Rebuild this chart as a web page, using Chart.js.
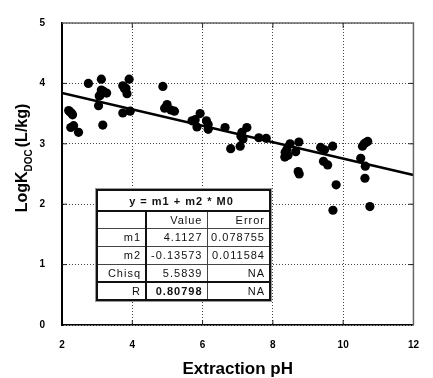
<!DOCTYPE html>
<html>
<head>
<meta charset="utf-8">
<script src="https://cdn.jsdelivr.net/npm/chart.js@4"></script>
<style>
  body { margin: 0; background: #fff; }
  #wrap { position: relative; width: 433px; height: 378px; }
  #fitTable {
    position: absolute; left: 96px; top: 189px;
    border-collapse: collapse; table-layout: fixed;
    background: #fff;
    border: 2px solid #111;
    box-shadow: 0 0 0 1px #999;
    font: 11px "Liberation Sans", Arial, sans-serif;
    letter-spacing: 1px; color: #111;
  }
  #fitTable td {
    border: 1px solid #444; padding: 0 4px 0 0;
    text-align: right; white-space: nowrap; line-height: 14px;
  }
  #fitTable tr.title td { text-align: center; font-weight: bold; border-bottom: 2px solid #111; }
  #fitTable td.val { border-left: 2px solid #111; }
  #fitTable tr.last td { border-top: 2px solid #111; }
</style>
</head>
<body>
<div id="wrap">
  <canvas id="chart" width="433" height="378"></canvas>
  <table id="fitTable">
    <colgroup><col style="width:49px"><col style="width:61px"><col style="width:63px"></colgroup>
    <tbody></tbody>
  </table>
</div>
<script>
// Données
const phValues = [
  2.19, 2.27, 2.30, 2.22, 2.25, 2.33, 2.47,
  2.75, 3.12, 3.12, 3.18, 3.09, 3.27, 3.13, 3.06, 3.04, 3.16,
  3.91, 3.73, 3.82, 3.85, 3.78, 3.73, 3.94,
  4.87, 4.99, 4.92, 5.10, 5.20,
  5.93, 5.79, 5.70, 5.84, 6.11, 6.16, 6.16,
  6.64, 6.80, 7.07, 7.12, 7.09, 7.15, 7.26,
  7.60, 7.81,
  8.49, 8.40, 8.35, 8.34, 8.43, 8.74, 8.65, 8.72, 8.75,
  9.36, 9.47, 9.44, 9.56, 9.70, 9.80, 9.71,
  10.60, 10.65, 10.70, 10.55, 10.50, 10.63, 10.62, 10.76
];
const logKValues = [
  3.55, 3.51, 3.48, 3.53, 3.27, 3.30, 3.19,
  4.00, 4.07, 3.89, 3.87, 3.81, 3.84, 3.84, 3.79, 3.63, 3.31,
  4.07, 3.96, 3.92, 3.83, 3.91, 3.51, 3.54,
  3.95, 3.65, 3.59, 3.56, 3.54,
  3.50, 3.40, 3.38, 3.28, 3.38, 3.32, 3.24,
  3.27, 2.92, 2.96, 3.19, 3.13, 3.08, 3.27,
  3.10, 3.09,
  3.00, 2.91, 2.86, 2.78, 2.81, 3.03, 2.87, 2.54, 2.50,
  2.94, 2.90, 2.71, 2.65, 2.96, 2.32, 1.90,
  3.00, 3.02, 3.04, 2.96, 2.76, 2.63, 2.43, 1.96
];

// Coefficients de la régression (tableau)
const m1 = 4.1127;
const m2 = -0.13573;
const fitX = [2, 12];
const fitY = fitX.map(x => m1 + m2 * x);

const tableTitle = 'y = m1 + m2 * M0';
const tableHeader = ['', 'Value', 'Error'];
const tableLabels = ['m1', 'm2', 'Chisq', 'R'];
const tableValues = ['4.1127', '-0.13573', '5.5839', '0.80798'];
const tableErrors = ['0.078755', '0.011584', 'NA', 'NA'];

const xTicks = [2, 4, 6, 8, 10, 12];
const yTicks = [0, 1, 2, 3, 4, 5];

// Construire le tableau des paramètres
function buildTable() {
  const body = document.querySelector('#fitTable tbody');
  body.innerHTML = '';
  const rowHeights = [21, 17, 18, 18, 18, 18];

  const titleRow = document.createElement('tr');
  titleRow.className = 'title';
  titleRow.style.height = rowHeights[0] + 'px';
  const titleCell = document.createElement('td');
  titleCell.colSpan = 3;
  titleCell.textContent = tableTitle;
  titleRow.appendChild(titleCell);
  body.appendChild(titleRow);

  const rows = [tableHeader].concat(tableLabels.map((l, i) => [l, tableValues[i], tableErrors[i]]));
  rows.forEach((cells, r) => {
    const row = document.createElement('tr');
    row.style.height = rowHeights[r + 1] + 'px';
    if (r === rows.length - 1) row.className = 'last';
    cells.forEach((txt, c) => {
      const td = document.createElement('td');
      td.textContent = txt;
      if (c === 1) td.className = 'val';
      if (r === rows.length - 1 && c === 1) td.style.fontWeight = 'bold';
      row.appendChild(td);
    });
    body.appendChild(row);
  });
}

// Cadre, petites graduations et titres des axes
const framePlugin = {
  id: 'frame',
  afterDraw(chart) {
    const { ctx, chartArea: a, scales } = chart;
    ctx.save();
    ctx.strokeStyle = '#666';
    ctx.lineWidth = 1.5;
    ctx.beginPath();
    ctx.moveTo(a.left, a.top);
    ctx.lineTo(a.right, a.top);
    ctx.lineTo(a.right, a.bottom);
    ctx.stroke();

    // graduations intérieures
    ctx.strokeStyle = '#222';
    ctx.lineWidth = 1;
    yTicks.slice(1, -1).forEach(v => {
      const y = scales.y.getPixelForValue(v);
      ctx.beginPath();
      ctx.moveTo(a.left, y); ctx.lineTo(a.left + 5, y);
      ctx.moveTo(a.right, y); ctx.lineTo(a.right - 5, y);
      ctx.stroke();
    });
    xTicks.slice(1, -1).forEach(v => {
      const x = scales.x.getPixelForValue(v);
      ctx.beginPath();
      ctx.moveTo(x, a.bottom); ctx.lineTo(x, a.bottom - 5);
      ctx.moveTo(x, a.top); ctx.lineTo(x, a.top + 5);
      ctx.stroke();
    });

    ctx.fillStyle = '#000';
    // titre de l'axe x
    ctx.font = 'bold 17px "Liberation Sans", Arial, sans-serif';
    ctx.textAlign = 'center';
    ctx.textBaseline = 'alphabetic';
    ctx.fillText('Extraction pH', (a.left + a.right) / 2, 374);

    // titre de l'axe y avec indice
    const big = 'bold 16px "Liberation Sans", Arial, sans-serif';
    const small = 'bold 10px "Liberation Sans", Arial, sans-serif';
    ctx.font = big;
    const w1 = ctx.measureText('LogK').width;
    const w3 = ctx.measureText('(L/kg)').width;
    ctx.font = small;
    const w2 = ctx.measureText('DOC').width + 2;
    const total = w1 + w2 + w3;
    ctx.translate(27, 158);
    ctx.rotate(-Math.PI / 2);
    ctx.textAlign = 'left';
    let x0 = -total / 2;
    ctx.font = big;
    ctx.fillText('LogK', x0, 0);
    ctx.font = small;
    ctx.fillText('DOC', x0 + w1, 5);
    ctx.font = big;
    ctx.fillText('(L/kg)', x0 + w1 + w2, 0);
    ctx.restore();
  }
};

function displayChart() {
  const ctx = document.getElementById('chart').getContext('2d');
  const points = phValues.map((x, i) => ({ x: x, y: logKValues[i] }));
  const fitLine = fitX.map((x, i) => ({ x: x, y: fitY[i] }));
  const tickFont = { family: '"Liberation Sans", Arial, sans-serif', size: 10, weight: 'bold' };

  window.fitChart = new Chart(ctx, {
    type: 'scatter',
    data: {
      datasets: [
        {
          label: 'Mesures',
          data: points,
          backgroundColor: '#000',
          borderColor: '#000',
          pointRadius: 4.6,
          pointBorderWidth: 0,
        },
        {
          label: 'Régression',
          type: 'line',
          data: fitLine,
          borderColor: '#000',
          borderWidth: 2.5,
          pointRadius: 0,
          fill: false,
        },
      ],
    },
    options: {
      responsive: false,
      animation: false,
      layout: { padding: { top: 19, right: 7, left: 0, bottom: 0 } },
      plugins: {
        legend: { display: false },
        tooltip: { enabled: false },
      },
      scales: {
        x: {
          type: 'linear',
          min: 2,
          max: 12,
          afterFit: s => { s.height = 53; },
          afterBuildTicks: s => { s.ticks = xTicks.map(v => ({ value: v })); },
          ticks: { font: tickFont, color: '#000', padding: 14 },
          grid: { color: '#444', lineWidth: 1, drawTicks: false },
          border: { color: '#000', width: 1.5, dash: [1, 2] },
        },
        y: {
          type: 'linear',
          min: 0,
          max: 5,
          afterFit: s => { s.width = 62; },
          afterBuildTicks: s => { s.ticks = yTicks.map(v => ({ value: v })); },
          ticks: { font: tickFont, color: '#000', padding: 17 },
          grid: { color: '#444', lineWidth: 1, drawTicks: false },
          border: { color: '#000', width: 2, dash: [1, 2] },
        },
      },
    },
    plugins: [framePlugin],
  });
}

buildTable();
displayChart();
</script>
</body>
</html>
